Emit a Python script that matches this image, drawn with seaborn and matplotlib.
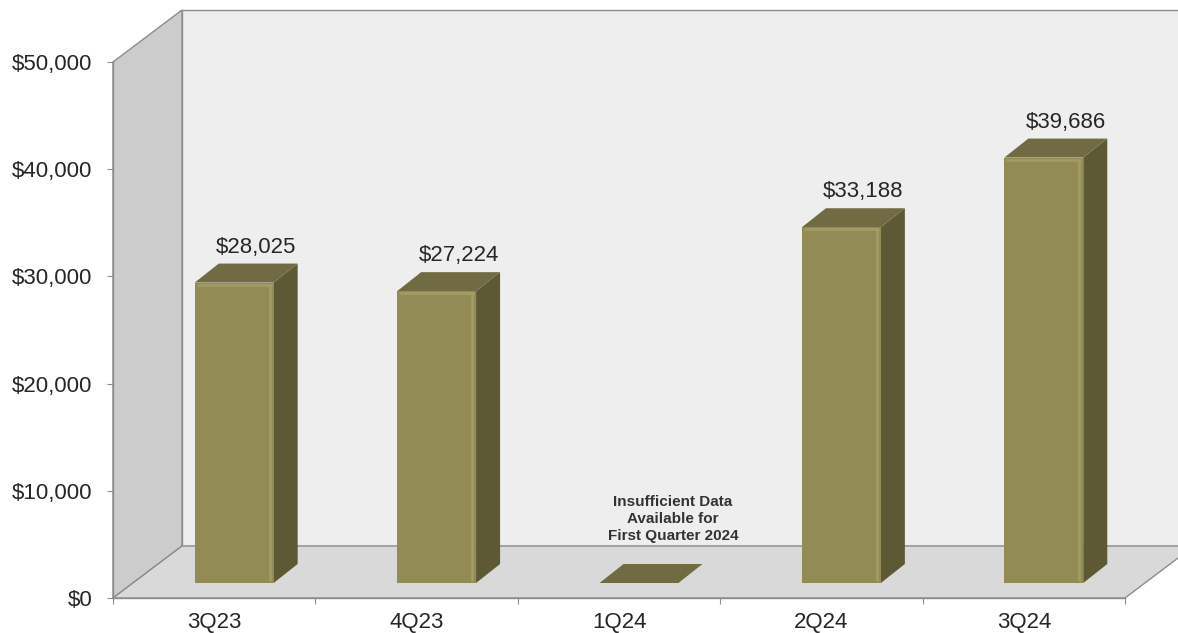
import matplotlib
matplotlib.use("Agg")
import matplotlib.pyplot as plt
import matplotlib.transforms as mtransforms
from matplotlib.patches import Polygon
import seaborn as sns
import pandas as pd
import numpy as np

# ---- data ----
quarters = ["3Q23", "4Q23", "1Q24", "2Q24", "3Q24"]
values = [28025, 27224, 0, 33188, 39686]
value_labels = ["$28,025", "$27,224", "", "$33,188", "$39,686"]
y_ticks = [0, 10000, 20000, 30000, 40000, 50000]
y_tick_labels = ["$0", "$10,000", "$20,000", "$30,000", "$40,000", "$50,000"]
note_quarter = "1Q24"
note_text = "Insufficient Data\nAvailable for\nFirst Quarter 2024"

# ---- style ----
sns.set_style("white")
plt.rcParams["font.family"] = ["Liberation Sans", "DejaVu Sans"]

FRONT = "#938b55"
SIDE = "#5e5935"
TOP = "#716b43"
HILITE = "#aaa26a"
EDGE = "#8c8c8c"
TEXT = "#262626"

# pseudo-3D geometry in pixels
WALL_D = (69, 52)     # depth of the chart box
BASE_D = (20, 15)     # bars sit this far behind the front edge
BAR_D = (24, 19)      # depth of each bar

fig = plt.figure(figsize=(11.78, 6.33), dpi=100)
W, H = 1178, 633
ax = fig.add_axes([113 / W, 35 / H, 1012 / W, 536 / H])
ax.patch.set_visible(False)

df = pd.DataFrame({"quarter": quarters, "value": values})
sns.barplot(data=df, x="quarter", y="value", order=quarters, color=FRONT,
            saturation=1, width=0.39, errorbar=None, ax=ax, zorder=4,
            linewidth=0)
bars = list(ax.patches)
ax.set_xlim(-0.5, len(quarters) - 0.5)
ax.set_ylim(y_ticks[0], y_ticks[-1])

T = ax.transData.transform
ident = mtransforms.IdentityTransform()


def shifted(pt, d):
    return (pt[0] + d[0], pt[1] + d[1])


# ---- box: side wall, back wall, floor ----
x0, x1 = ax.get_xlim()
y0, y1 = ax.get_ylim()
bl, tl = T((x0, y0)), T((x0, y1))
br, tr = T((x1, y0)), T((x1, y1))

side_wall = [bl, tl, shifted(tl, WALL_D), shifted(bl, WALL_D)]
back_wall = [shifted(bl, WALL_D), shifted(tl, WALL_D),
             shifted(tr, WALL_D), shifted(br, WALL_D)]
floor = [bl, br, shifted(br, WALL_D), shifted(bl, WALL_D)]
for poly, fc in [(back_wall, "#eeeeee"), (side_wall, "#cccccc"), (floor, "#d9d9d9")]:
    ax.add_patch(Polygon(poly, closed=True, facecolor=fc, edgecolor=EDGE,
                         linewidth=1, transform=ident, clip_on=False, zorder=0.5))

# ---- bars: move front faces back, add side/top faces ----
base_shift = mtransforms.Affine2D().translate(*BASE_D)
for bar, lab in zip(bars, value_labels):
    bx, bw, bh = bar.get_x(), bar.get_width(), bar.get_height()
    fl = shifted(T((bx, 0)), BASE_D)
    fr = shifted(T((bx + bw, 0)), BASE_D)
    tl_ = shifted(T((bx, bh)), BASE_D)
    tr_ = shifted(T((bx + bw, bh)), BASE_D)
    bar.set_transform(ax.transData + base_shift)
    bar.set_clip_on(False)

    side = [fr, tr_, shifted(tr_, BAR_D), shifted(fr, BAR_D)]
    top = [tl_, tr_, shifted(tr_, BAR_D), shifted(tl_, BAR_D)]
    ax.add_patch(Polygon(side, closed=True, facecolor=SIDE, edgecolor="none",
                         transform=ident, clip_on=False, zorder=3.5))
    ax.add_patch(Polygon(top, closed=True, facecolor=TOP, edgecolor="none",
                         transform=ident, clip_on=False, zorder=3.6,
                         joinstyle="round"))
    if bh > 0:
        # soft bevel highlights on the front face
        ax.plot([tr_[0] - 4, fr[0] - 4], [tr_[1] - 3, fr[1] + 3], color=HILITE,
                lw=2, alpha=0.7, transform=ident, clip_on=False, zorder=4.5,
                solid_capstyle="round")
        ax.plot([tl_[0] + 3, tr_[0] - 3], [tl_[1] - 2, tr_[1] - 2], color=HILITE,
                lw=2, alpha=0.7, transform=ident, clip_on=False, zorder=4.5,
                solid_capstyle="round")
        ax.annotate(lab, xy=(bx + bw / 2, bh), xytext=(22 + BASE_D[0], 30 + BASE_D[1]),
                    textcoords="offset pixels", ha="center", va="baseline",
                    fontsize=16, color=TEXT, annotation_clip=False, zorder=6)

# ---- note for the missing quarter ----
ax.annotate(note_text, xy=(quarters.index(note_quarter), 0), xytext=(54, 79),
            textcoords="offset pixels", ha="center", va="center",
            fontsize=11, fontweight="bold", color="#333333", zorder=6,
            linespacing=1.3, annotation_clip=False)

# ---- axes, ticks ----
for s in ["top", "right"]:
    ax.spines[s].set_visible(False)
for s in ["left", "bottom"]:
    ax.spines[s].set_color(EDGE)
    ax.spines[s].set_linewidth(1)
    ax.spines[s].set_zorder(1)

ax.set_yticks(y_ticks, labels=y_tick_labels)
ax.set_xticks(range(len(quarters)), labels=quarters)
ax.set_xticks(np.arange(-0.5, len(quarters)), minor=True)
ax.tick_params(axis="y", which="major", left=True, length=4.3, width=0.8,
               color=EDGE, labelsize=16, labelcolor=TEXT, pad=10.5)
ax.tick_params(axis="x", which="major", bottom=True, length=0, labelsize=16,
               labelcolor=TEXT, pad=10)
ax.tick_params(axis="x", which="minor", bottom=True, length=4.3, width=0.8,
               color=EDGE)
ax.set_xlabel("")
ax.set_ylabel("")
ax.grid(False)

fig.savefig("out.png", dpi=100, facecolor="white")
